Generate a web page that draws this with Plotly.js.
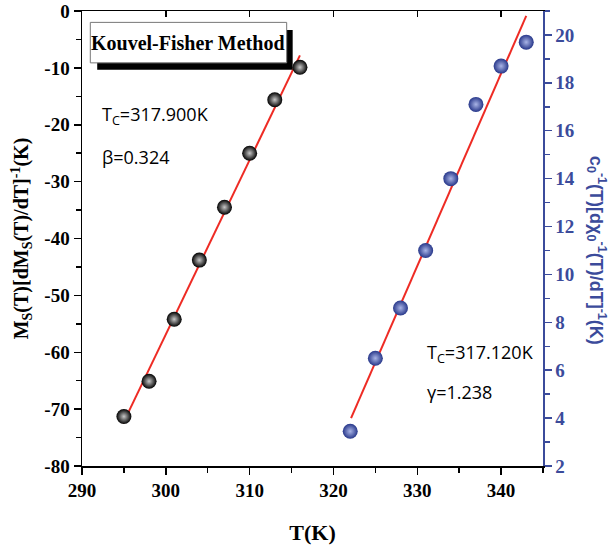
<!DOCTYPE html>
<html>
<head>
<meta charset="utf-8">
<script src="https://cdn.plot.ly/plotly-3.0.1.min.js"></script>
<style>html,body{margin:0;padding:0;background:#fff;}#chart{width:611px;height:554px;}</style>
</head>
<body>
<div id="chart"></div>
<script>
// Ms(T)[dMs/dT]^-1 data (left axis)
const tempMs = [295, 298, 301, 304, 307, 310, 313, 316];
const valMs = [-71.3, -65.1, -54.2, -43.8, -34.5, -25.0, -15.6, -9.9];
// chi0^-1 data (right axis)
const tempChi = [322, 325, 328, 331, 334, 337, 340, 343];
const valChi = [3.45, 6.5, 8.6, 11.0, 14.0, 17.1, 18.7, 19.7];
// linear fits
const fitMsT = [294.9, 316.0];
const fitMsY = [-72.5, -7.8];
const fitChiT = [322.1, 343.0];
const fitChiY = [4.0, 20.8];
// tick labels (left axis uses a plain hyphen)
const yTickVals = [0, -10, -20, -30, -40, -50, -60, -70, -80];
const yTickText = ['0', '-10', '-20', '-30', '-40', '-50', '-60', '-70', '-80'];
// texts
const boxTitle = 'Kouvel-Fisher Method';
const leftNote1 = 'T<sub>C</sub>=317.900K';
const leftNote2 = 'β=0.324';
const rightNote1 = 'T<sub>C</sub>=317.120K';
const rightNote2 = 'γ=1.238';
const xTitle = 'T(K)';
const yTitle = 'M<sub>S</sub>(T)[dM<sub>S</sub>(T)/dT]<sup>-1</sup>(K)';
const y2Title = 'c<sub>0</sub><sup>-1</sup>(T)[dχ<sub>0</sub><sup>-1</sup>(T)/dT]<sup>-1</sup>(K)';

const blue = '#3b4b9b';
const red = '#ee2b24';
const serif = 'Liberation Serif, Times New Roman, serif';
const sans = 'Open Sans, Roboto, sans-serif';

const traces = [
  {x: fitMsT, y: fitMsY, mode: 'lines', line: {color: red, width: 2}, xaxis: 'x', yaxis: 'y', hoverinfo: 'skip'},
  {x: tempMs, y: valMs, mode: 'markers', xaxis: 'x', yaxis: 'y',
   marker: {size: 15, color: '#000000', gradient: {type: 'radial', color: '#c8c8c8'}, line: {width: 0}}},
  {x: fitChiT, y: fitChiY, mode: 'lines', line: {color: red, width: 2}, xaxis: 'x', yaxis: 'y2', hoverinfo: 'skip'},
  {x: tempChi, y: valChi, mode: 'markers', xaxis: 'x', yaxis: 'y2',
   marker: {size: 15, color: '#27378a', gradient: {type: 'radial', color: '#a9b4e6'}, line: {width: 0}}},
  {x: [null], y: [null], xaxis: 'x2', yaxis: 'y', mode: 'markers', showlegend: false, hoverinfo: 'skip'}
];

const tickFontBlack = {family: serif, size: 19, color: '#000', weight: 'bold'};
const tickFontBlue = {family: serif, size: 19, color: blue, weight: 'bold'};

const layout = {
  width: 611, height: 554,
  margin: {l: 82, r: 68, t: 11, b: 88},
  paper_bgcolor: '#fff', plot_bgcolor: '#fff',
  showlegend: false,
  xaxis: {
    range: [290, 345], dtick: 10, tick0: 290, showgrid: false, zeroline: false,
    ticks: 'outside', ticklen: 7, tickwidth: 1.5, tickcolor: '#000',
    minor: {dtick: 5, ticks: 'outside', ticklen: 5, tickwidth: 1.5, tickcolor: '#000', showgrid: false},
    showline: true, linecolor: '#000', linewidth: 1.5,
    tickfont: tickFontBlack,
    title: {text: xTitle, font: {family: serif, size: 22, color: '#000', weight: 'bold'}, standoff: 24}
  },
  xaxis2: {
    range: [290, 345], dtick: 10, tick0: 290, overlaying: 'x', side: 'top', anchor: 'y',
    showgrid: false, zeroline: false, showticklabels: false,
    ticks: 'inside', ticklen: 6, tickwidth: 1.5, tickcolor: '#000',
    showline: true, linecolor: '#000', linewidth: 1.5
  },
  yaxis: {
    range: [-80, 0], tickmode: 'array', tickvals: yTickVals, ticktext: yTickText,
    showgrid: false, zeroline: false,
    ticks: 'outside', ticklen: 7, tickwidth: 1.5, tickcolor: '#000',
    minor: {dtick: 5, ticks: 'outside', ticklen: 5, tickwidth: 1.5, tickcolor: '#000', showgrid: false},
    showline: true, linecolor: '#000', linewidth: 1.5,
    tickfont: tickFontBlack,
    title: {text: yTitle, font: {family: serif, size: 20, color: '#000', weight: 'bold'}, standoff: 10}
  },
  yaxis2: {
    range: [2, 21], dtick: 2, tick0: 2, overlaying: 'y', side: 'right', anchor: 'x',
    showgrid: false, zeroline: false,
    ticks: 'outside', ticklen: 7, tickwidth: 1.5, tickcolor: blue,
    minor: {dtick: 1, ticks: 'outside', ticklen: 5, tickwidth: 1.5, tickcolor: blue, showgrid: false},
    showline: true, linecolor: blue, linewidth: 1.5,
    tickfont: tickFontBlue
  },
  shapes: [
    {type: 'rect', xref: 'paper', yref: 'paper', x0: 0.033, x1: 0.457, y0: 0.871, y1: 0.958,
     fillcolor: '#000', line: {width: 0}, layer: 'above'},
    {type: 'rect', xref: 'paper', yref: 'paper', x0: 0.018, x1: 0.444, y0: 0.886, y1: 0.975,
     fillcolor: '#fff', line: {color: '#777', width: 1}, layer: 'above'}
  ],
  annotations: [
    {text: boxTitle, xref: 'paper', yref: 'paper', x: 0.231, y: 0.930, showarrow: false,
     xanchor: 'center', yanchor: 'middle', font: {family: serif, size: 20, color: '#000', weight: 'bold'}},
    {text: leftNote1, xref: 'paper', yref: 'paper', x: 0.038, y: 0.771, showarrow: false,
     xanchor: 'left', yanchor: 'middle', font: {family: sans, size: 18, color: '#000'}},
    {text: leftNote2, xref: 'paper', yref: 'paper', x: 0.038, y: 0.679, showarrow: false,
     xanchor: 'left', yanchor: 'middle', font: {family: sans, size: 18, color: '#000'}},
    {text: rightNote1, xref: 'paper', yref: 'paper', x: 0.744, y: 0.248, showarrow: false,
     xanchor: 'left', yanchor: 'middle', font: {family: sans, size: 18, color: '#000'}},
    {text: rightNote2, xref: 'paper', yref: 'paper', x: 0.744, y: 0.163, showarrow: false,
     xanchor: 'left', yanchor: 'middle', font: {family: sans, size: 18, color: '#000'}},
    {text: y2Title, xref: 'paper', yref: 'paper', x: 1.115, y: 0.475, showarrow: false, textangle: 90,
     xanchor: 'center', yanchor: 'middle', font: {family: 'Liberation Sans, Arial, sans-serif', size: 18, color: blue, weight: 'bold'}}
  ]
};

Plotly.newPlot('chart', traces, layout, {displayModeBar: false, staticPlot: true});
</script>
</body>
</html>
